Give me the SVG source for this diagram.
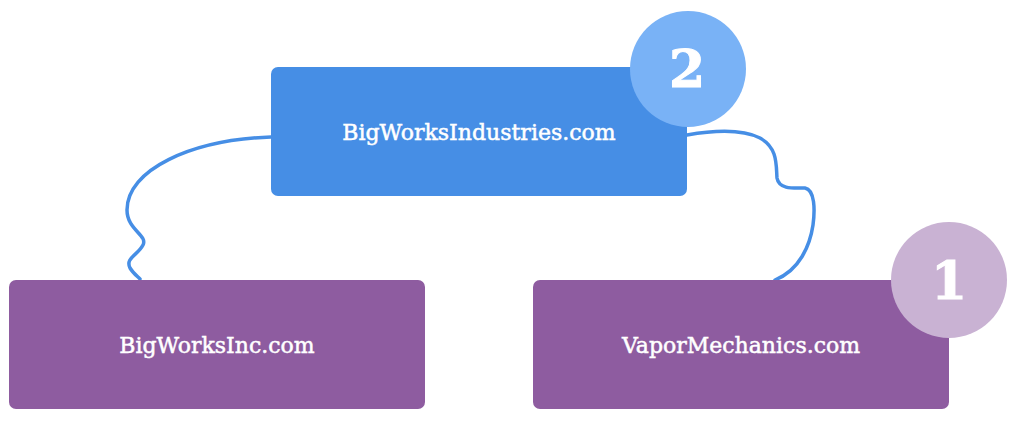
<svg xmlns="http://www.w3.org/2000/svg" width="1014" height="427" viewBox="0 0 1014 427">
<style>
.blue{fill:#468ee5}
.purple{fill:#8e5ca0}
.lbl{font-family:"DejaVu Serif","Liberation Serif",serif;font-size:22px;fill:#ffffff;stroke:#ffffff;stroke-width:0.5;text-anchor:middle}
.num{font-family:"DejaVu Serif","Liberation Serif",serif;font-weight:bold;font-size:52px;fill:#ffffff;stroke:#ffffff;stroke-width:1;text-anchor:middle}
.conn{fill:none;stroke:#468ee5;stroke-width:3.5;stroke-linecap:round}
</style>
<rect width="1014" height="427" fill="#ffffff"/>
<g id="connectors">
<path class="conn" d="M271,137 C190,140 127,170 127,210 C127,230 148,235 143,245 C138,255 125,258 130,268 C133,273 137,276 140,279"/>
<path class="conn" d="M687,135 C710,131 740,128 760,138 C778,148 776,165 777,178 C779,190 795,188 805,188 C815,190 815,210 813,225 C810,245 800,270 775,280"/>
</g>
<g id="node-industries">
<rect class="blue" x="271" y="67" width="416" height="129" rx="7"/>
<text class="lbl" x="479" y="140">BigWorksIndustries.com</text>
</g>
<g id="badge-2">
<circle cx="688" cy="69" r="58" fill="#79b2f6"/>
<text class="num" x="687" y="87">2</text>
</g>
<g id="node-inc">
<rect class="purple" x="9" y="280" width="416" height="129" rx="7"/>
<text class="lbl" x="217" y="353">BigWorksInc.com</text>
</g>
<g id="node-vapor">
<rect class="purple" x="533" y="280" width="416" height="129" rx="7"/>
<text class="lbl" x="741" y="353">VaporMechanics.com</text>
</g>
<g id="badge-1">
<circle cx="949" cy="280" r="58" fill="#c9b2d3"/>
<text class="num" x="949" y="299">1</text>
</g>
</svg>
